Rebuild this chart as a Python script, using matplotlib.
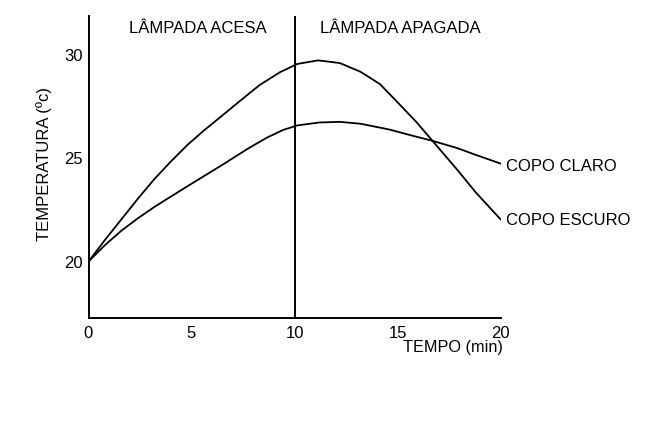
import matplotlib
matplotlib.use("Agg")
import matplotlib.pyplot as plt

plt.rcParams["font.family"] = ["Liberation Sans", "DejaVu Sans"]

# leituras do gráfico (tempo em min, temperatura em ºC)
tempo_escuro = [0, 0.8, 1.6, 2.4, 3.2, 4.0, 4.8, 5.6, 6.4, 7.35, 8.3, 9.3, 10.15, 11.15,
                12.2, 13.2, 14.15, 15.0, 15.9, 16.7, 17.9, 18.8, 20]
temp_escuro = [20, 21.05, 22.05, 23.05, 24.0, 24.85, 25.65, 26.35, 27.0, 27.78, 28.55, 29.18, 29.58, 29.75,
               29.62, 29.2, 28.6, 27.72, 26.78, 25.85, 24.45, 23.35, 22.05]

tempo_claro = [0, 0.8, 1.6, 2.4, 3.2, 4.0, 4.8, 5.7, 6.6, 7.7, 8.65, 9.45, 10.15, 11.2,
               12.2, 13.2, 14.6, 15.8, 16.7, 17.9, 18.8, 20]
temp_claro = [20, 20.8, 21.5, 22.1, 22.65, 23.15, 23.65, 24.2, 24.75, 25.45, 26.0, 26.38, 26.6, 26.74,
              26.77, 26.68, 26.4, 26.08, 25.85, 25.5, 25.17, 24.75]

x_ticks = [0, 5, 10, 15, 20]
y_ticks = [20, 25, 30]
t_desliga = 10

fig = plt.figure(figsize=(6.62, 4.22), dpi=100)
ax = fig.add_axes([88.5 / 662, 104.3 / 422, 412 / 662, 301.7 / 422])

ax.plot(tempo_escuro, temp_escuro, color="black", lw=1.3, solid_joinstyle="round")
ax.plot(tempo_claro, temp_claro, color="black", lw=1.3, solid_joinstyle="round")
ax.axvline(t_desliga, color="black", lw=1.4)

ax.set_xlim(0, 20)
ax.set_ylim(17.28, 31.9)
ax.set_xticks(x_ticks)
ax.set_yticks(y_ticks)
ax.tick_params(length=0, labelsize=12)
ax.tick_params(axis="x", pad=6)
ax.tick_params(axis="y", pad=4)

for s in ["top", "right"]:
    ax.spines[s].set_visible(False)
for s in ["left", "bottom"]:
    ax.spines[s].set_linewidth(1.4)

ax.set_xlabel("TEMPO (min)", fontsize=11.7, ha="right", va="center")
ax.xaxis.set_label_coords(1.006, -0.1)
ax.set_ylabel("TEMPERATURA (ºc)", fontsize=12)
ax.yaxis.label.set(ha="center", va="center", rotation_mode="default")
ax.yaxis.set_label_coords(-0.108, 0.511)

ax.text(5.32, 31.28, "LÂMPADA ACESA", fontsize=12, ha="center", va="center")
ax.text(15.16, 31.28, "LÂMPADA APAGADA", fontsize=12, ha="center", va="center")
ax.text(20.27, 24.62, "COPO CLARO", fontsize=12, ha="left", va="center")
ax.text(20.27, 22.01, "COPO ESCURO", fontsize=12, ha="left", va="center")

fig.savefig("out.png", dpi=100)
